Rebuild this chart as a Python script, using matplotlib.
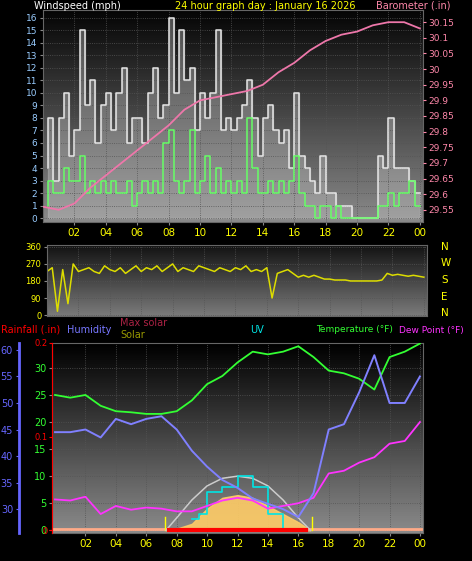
import numpy as np
import matplotlib
matplotlib.use("Agg")
import matplotlib.pyplot as plt

W, H = 472, 561
# ---------------- data ----------------
wind_t = [i/3 for i in range(1, 73)]
gust = [4,8,3, 8,10,5, 7,15,9, 11,6,9, 10,7,10, 12,6,8, 8,6,10, 12,8,9,
        16,10,15, 11,12,7, 10,8,10, 15,7,8, 7,8,9, 11,8,5, 8,9,7, 6,7,4,
        10,5,4, 3,2,5, 2,2,1, 1,1,0, 0,0,0, 0,5,4, 8,4,4, 4,3,2]
avgw = [1,3,2, 2,4,3, 3,5,2, 3,2,3, 2,3,2, 2,3,1, 2,3,2, 3,2,6,
        7,3,2, 3,7,2, 3,5,2, 4,2,3, 2,3,2, 8,4,2, 2,3,2, 3,2,3,
        5,2,1, 1,0,1, 1,0,1, 0,0,0, 0,0,0, 0,1,1, 2,1,2, 2,3,1]
hours = list(range(25))
baro = [29.56,29.55,29.57,29.62,29.66,29.70,29.74,29.78,29.82,29.87,29.90,29.91,29.92,
        29.93,29.95,29.99,30.02,30.06,30.09,30.11,30.12,30.14,30.15,30.15,30.13]
dir_t = [i/3 for i in range(0, 73)]
wdir = [230,250,20,240,60,270,230,240,250,230,220,260,240,230,250,220,240,260,230,250,
        240,260,230,250,270,230,250,240,230,260,250,240,230,250,240,230,250,240,260,230,
        240,230,250,90,220,230,240,220,200,210,200,210,200,190,190,185,185,185,180,180,
        180,180,180,180,185,220,210,215,210,205,210,205,200]
temp = [25,24.5,25,23,22,21.8,21.5,21.5,22,24,27,28.5,31,33,32.5,33,34,32,29.5,29,28,26,32,33,34.5]
hum = [44.5,44.5,45,43.5,47,46,47,47.5,45,41,38,35.5,34,32,31,30,28.5,33,45,46,52,59,50,50,55]
dew = [5.7,5.5,6.2,3,4.5,3.8,4.2,4,3.5,3.5,4.5,5.5,6,5.5,4,4.5,5,6,10.5,11,12.5,13.5,16,16.5,20]
sol_t = [7.3,8,9,10,11,12,13,14,15,16,16.8]
solar_max = [0,2.3,5.6,8.2,9.6,10,9.6,8.2,5.6,2.3,0]
solar = [0,0.3,1.2,4,6,6.5,6,4.5,3,1.5,0]
uv_t = [9,9.5,10,11,12,13,14,15]
uv = [2,3,7,8,10,8,3,0]

BG = "black"
FS = 7
fig = plt.figure(figsize=(W/100, H/100), dpi=100, facecolor=BG)

def ax_px(x0, y0, x1, y1):
    return fig.add_axes([x0/W, 1-y1/H, (x1-x0)/W, (y1-y0)/H])

def gradient(ax, top, bot):
    g = np.linspace(0, 1, 100).reshape(-1, 1)
    cmap = matplotlib.colors.LinearSegmentedColormap.from_list("g", [top, bot])
    ax.imshow(g, aspect="auto", cmap=cmap, extent=[0, 1, 0, 1], transform=ax.transAxes, zorder=0)

def style(ax):
    for s in ax.spines.values():
        s.set_color("#666666")
    ax.tick_params(colors="#888888", labelsize=FS, length=2, pad=2)
    ax.grid(True, color="#555555", linestyle=":", linewidth=0.6)

xt = list(range(2, 25, 2))
xl = ["%02d" % (h % 24) for h in xt]
yellow = "#ffff00"

# ---------- panel 1 ----------
a1 = ax_px(43, 10, 423, 222)
gradient(a1, "#050505", "#8a8a8a")
a1.fill_between(wind_t, gust, step="pre", color="#cccccc", alpha=0.35, zorder=1)
a1.step(wind_t, gust, color="#e6e6e6", lw=1.1, zorder=2)
a1.step(wind_t, avgw, color="#66ff66", lw=1.1, zorder=3)
a1.set_xlim(0, 24.2); a1.set_ylim(-0.3, 16.6)
a1.set_yticks(range(17))
a1.set_xticks(xt); a1.set_xticklabels(xl)
style(a1)
a1.tick_params(axis="y", labelcolor="#99ccff", labelsize=6.5)
a1.tick_params(axis="x", labelcolor=yellow, labelsize=FS+0.5)
b1 = a1.twinx()
b1.plot(hours, baro, color="#ee77aa", lw=1.3, zorder=4)
b1.set_ylim(29.511, 30.189)
b1.set_yticks([29.55,29.6,29.65,29.7,29.75,29.8,29.85,29.9,29.95,30,30.05,30.1,30.15])
b1.set_yticklabels(["29.55","29.6","29.65","29.7","29.75","29.8","29.85","29.9","29.95","30","30.05","30.1","30.15"])
b1.tick_params(colors="#ff88aa", labelsize=6.5, length=2, pad=2)
for s in b1.spines.values(): s.set_visible(False)
fig.text(34/W, 1-6/H, "Windspeed (mph)", color="white", fontsize=FS, va="center")
fig.text(175/W, 1-6/H, "24 hour graph day : January 16 2026", color=yellow, fontsize=FS, va="center")
fig.text(376/W, 1-6/H, "Barometer (.in)", color="#ff88aa", fontsize=FS, va="center")

# ---------- panel 2 ----------
a2 = ax_px(47, 245, 427, 316)
gradient(a2, "#111111", "#7a7a7a")
a2.plot(dir_t, wdir, color="#dddd00", lw=1.1)
a2.set_xlim(0, 24.2); a2.set_ylim(-5, 370)
a2.set_yticks([0,90,180,270,360]); a2.set_xticks(xt); a2.set_xticklabels([])
style(a2)
a2.tick_params(axis="y", labelcolor=yellow, labelsize=6)
a2.tick_params(axis="x", length=0)
for i, c in enumerate(["N", "W", "S", "E", "N"]):
    fig.text(441/W, 1-(247+i*16.5)/H, c, color=yellow, fontsize=FS+0.5, va="center")

# ---------- panel 3 ----------
a3 = ax_px(52, 343, 423, 533)
gradient(a3, "#000000", "#8a8a8a")
a3.set_xlim(-0.2, 24.2)
a3.set_ylim(-0.5, 34.6)
a3.fill_between(sol_t, solar, color="#ffcc66", alpha=0.9, zorder=2)
a3.plot(sol_t, solar_max, color="#cccccc", lw=1.1, zorder=3)
a3.step(uv_t, uv, where="post", color="#00e5e5", lw=1.2, zorder=3)
a3.plot([7.5, 16.5], [0.1, 0.1], color="red", lw=3, zorder=3)
a3.axhline(0.2, color="#ffaa88", lw=2, zorder=2)
a3.plot([7.2, 7.2], [0, 2.4], color=yellow, lw=1); a3.plot([16.9, 16.9], [0, 2.4], color=yellow, lw=1)
a3.plot(hours, temp, color="#33ff33", lw=1.3, zorder=4)
a3.plot(hours, dew, color="#ff33ff", lw=1.3, zorder=4)
a3.set_yticks([0,5,10,15,20,25,30])
a3.yaxis.tick_right()
a3.set_xticks(xt); a3.set_xticklabels(xl)
style(a3)
a3.tick_params(axis="y", labelcolor="#33ff33", labelsize=FS)
a3.tick_params(axis="x", labelcolor=yellow, labelsize=FS+0.5)
h3 = a3.twinx()
h3.yaxis.tick_left()
h3.plot(hours, hum, color="#8080ff", lw=1.4, zorder=5)
h3.set_ylim(25.5, 61.3)
h3.set_yticks([30,35,40,45,50,55,60])
h3.spines["left"].set_position(("outward", 24))
h3.spines["left"].set_color("#6666ff"); h3.spines["left"].set_linewidth(2)
for s in ["right", "top", "bottom"]: h3.spines[s].set_visible(False)
h3.tick_params(colors="#6666ff", labelsize=FS, length=2, pad=2)
r3 = a3.twinx()
r3.yaxis.tick_left()
r3.set_ylim(-0.003, 0.2)
r3.set_yticks([0, 0.1, 0.2]); r3.set_yticklabels(["0", "0.1", "0.2"])
r3.spines["left"].set_color("red")
for s in ["right", "top", "bottom"]: r3.spines[s].set_visible(False)
r3.tick_params(colors="red", labelsize=FS-1, length=2, pad=1)
fig.text(1/W, 1-330/H, "Rainfall (.in)", color="red", fontsize=FS, va="center")
fig.text(67/W, 1-330/H, "Humidity", color="#7777ff", fontsize=FS, va="center")
fig.text(120/W, 1-323/H, "Max solar", color="#aa2244", fontsize=FS, va="center")
fig.text(120/W, 1-335/H, "Solar", color="#999900", fontsize=FS, va="center")
fig.text(250/W, 1-330/H, "UV", color="#00e5e5", fontsize=FS, va="center")
fig.text(316/W, 1-330/H, "Temperature (°F)", color="#33ff33", fontsize=FS-0.5, va="center")
fig.text(399/W, 1-330/H, "Dew Point (°F)", color="#ff33ff", fontsize=FS-0.5, va="center")

fig.savefig("out.png", dpi=100, facecolor=BG)
